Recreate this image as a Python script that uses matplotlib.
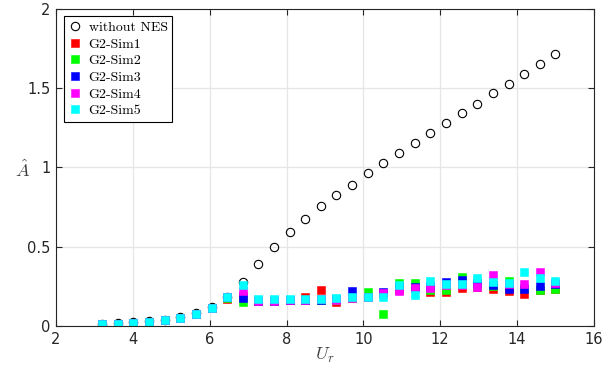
import matplotlib
matplotlib.use('Agg')
import matplotlib.pyplot as plt

# reduced velocity
Ur = [3.2, 3.61, 4.01, 4.42, 4.83, 5.23, 5.64, 6.05, 6.46, 6.86,
      7.27, 7.68, 8.08, 8.49, 8.9, 9.3, 9.71, 10.12, 10.52, 10.93,
      11.34, 11.74, 12.15, 12.56, 12.97, 13.37, 13.78, 14.19, 14.59, 15.0]

# amplitude without NES
A_noNES = [0.015, 0.018, 0.022, 0.030, 0.040, 0.056, 0.080, 0.120, 0.185, 0.280,
           0.390, 0.496, 0.595, 0.677, 0.755, 0.824, 0.892, 0.962, 1.025, 1.090,
           1.157, 1.216, 1.281, 1.344, 1.403, 1.468, 1.529, 1.590, 1.653, 1.716]

A_sim1 = [0.012, 0.015, 0.019, 0.027, 0.038, 0.053, 0.076, 0.116, 0.167, 0.190,
          0.158, 0.158, 0.165, 0.180, 0.227, 0.151, 0.175, 0.180, 0.205, 0.225,
          0.245, 0.215, 0.215, 0.240, 0.245, 0.233, 0.219, 0.204, 0.225, 0.235]
A_sim2 = [0.012, 0.015, 0.019, 0.027, 0.038, 0.053, 0.076, 0.116, 0.175, 0.151,
          0.160, 0.160, 0.163, 0.165, 0.165, 0.165, 0.175, 0.215, 0.076, 0.273,
          0.270, 0.225, 0.227, 0.311, 0.250, 0.250, 0.286, 0.240, 0.230, 0.232]
A_sim3 = [0.012, 0.015, 0.019, 0.027, 0.038, 0.053, 0.076, 0.116, 0.180, 0.179,
          0.160, 0.160, 0.165, 0.162, 0.165, 0.168, 0.223, 0.180, 0.215, 0.250,
          0.245, 0.250, 0.278, 0.290, 0.273, 0.260, 0.235, 0.232, 0.252, 0.263]
A_sim4 = [0.012, 0.015, 0.019, 0.027, 0.038, 0.053, 0.076, 0.116, 0.180, 0.221,
          0.160, 0.160, 0.163, 0.165, 0.168, 0.165, 0.175, 0.180, 0.206, 0.221,
          0.240, 0.242, 0.260, 0.260, 0.248, 0.320, 0.265, 0.265, 0.339, 0.270]
A_sim5 = [0.012, 0.015, 0.019, 0.027, 0.038, 0.053, 0.076, 0.116, 0.185, 0.257,
          0.168, 0.168, 0.172, 0.172, 0.170, 0.175, 0.181, 0.181, 0.181, 0.259,
          0.194, 0.282, 0.263, 0.263, 0.301, 0.278, 0.270, 0.339, 0.301, 0.286]

sims = [A_sim1, A_sim2, A_sim3, A_sim4, A_sim5]
labels = ['G2-Sim1', 'G2-Sim2', 'G2-Sim3', 'G2-Sim4', 'G2-Sim5']
colors = ['#ff0000', '#00ff00', '#0000ff', '#ff00ff', '#00ffff']

plt.rcParams['mathtext.fontset'] = 'cm'
ax_col = '#262626'

fig = plt.figure(figsize=(6.03, 3.70), dpi=100)
ax = fig.add_axes([0.0929, 0.119, 0.892, 0.857])

ax.plot(Ur, A_noNES, 'o', mfc='none', mec='black', ms=6, mew=0.8,
        label='without NES')
for ys, lab, c in zip(sims, labels, colors):
    ax.plot(Ur, ys, 's', color=c, mec=c, ms=5.5, mew=0.4, label=lab)

ax.set_xlim(2, 16)
ax.set_ylim(0, 2)
ax.set_xticks([2, 4, 6, 8, 10, 12, 14, 16])
ax.set_yticks([0, 0.5, 1, 1.5, 2])
ax.set_yticklabels(['0', '0.5', '1', '1.5', '2'])
ax.grid(True, color='#e6e6e6', linewidth=0.9)
ax.set_axisbelow(True)

for s in ax.spines.values():
    s.set_color(ax_col)
    s.set_linewidth(0.8)
ax.tick_params(direction='in', top=True, right=True, length=4, width=0.8,
               color=ax_col, labelcolor=ax_col, labelsize=10.5, pad=4)

ax.set_xlabel('$U_r$', fontsize=13, color='#404040', va='center')
ax.set_ylabel(r'$\hat{A}$', fontsize=13, color='#404040', rotation=0,
              ha='center', va='center')
ax.xaxis.set_label_coords(0.5, -0.092)
ax.yaxis.set_label_coords(-0.063, 0.49)

leg = ax.legend(loc='upper left', bbox_to_anchor=(0.0154, 0.976),
                borderaxespad=0, fancybox=False, framealpha=1,
                edgecolor='black', handlelength=0.9, handletextpad=0.5,
                borderpad=0.35, labelspacing=0.28,
                prop={'family': 'cmr10', 'size': 10})
leg.get_frame().set_linewidth(0.8)

fig.savefig('out.png', dpi=100)
